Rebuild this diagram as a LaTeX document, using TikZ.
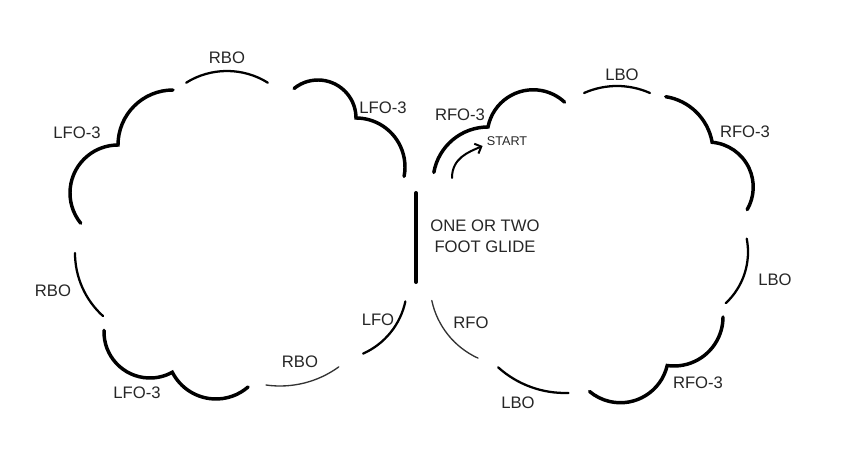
\documentclass[tikz,border=0pt]{standalone}
\usepackage{fontspec}
\setmainfont{Liberation Sans}
\usetikzlibrary{positioning,arrows.meta}

\begin{document}
\begin{tikzpicture}[x=0.75pt, y=-0.75pt, line cap=round, >={Straight Barb[length=4pt,width=8pt]},
    heavy edge/.style={line width=2.6pt}, mid edge/.style={line width=1.7pt}, light edge/.style={line width=1pt, black!80},
    edge label/.style={font=\fontsize{12.5}{15.75}\selectfont, text=black!85, inner sep=0pt, align=center}]
    \useasboundingbox (0,0) rectangle (842,456);

    % left circle
    \draw[heavy edge] (118,193) ++(141:48) arc[start angle=141, end angle=270, radius=48] arc[start angle=180, end angle=270, radius=55];
    \draw[mid edge] (227,148) ++(238:77) arc[start angle=238, end angle=302, radius=77];
    \draw[heavy edge] (318,118) ++(231:38) arc[start angle=231, end angle=360, radius=38] arc[start angle=270, end angle=371, radius=49];
    \draw[mid edge] (160,253) ++(180:85) arc[start angle=180, end angle=132, radius=85];
    \draw[heavy edge] (150,332) ++(182:46) arc[start angle=182, end angle=61, radius=46] arc[start angle=153, end angle=49, radius=49];
    \draw[light edge] (280,286) ++(98:100) arc[start angle=98, end angle=54, radius=100];
    \draw[mid edge] (333,286) ++(66:74) arc[start angle=66, end angle=12, radius=74];

    \node[edge label] (lfo3a) at (77,133) {LFO-3};
    \node[edge label] (rboa) at (227,58) {RBO};
    \node[edge label] (lfo3b) at (383,108) {LFO-3};
    \node[edge label] (rbob) at (53,291) {RBO};
    \node[edge label] (lfo3c) at (137,393) {LFO-3};
    \node[edge label] (rboc) at (300,362) {RBO};
    \node[edge label] (lfo) at (378,320) {LFO};

    % glide
    \draw[line width=3pt] (416,193) -- (416,282);
    \node[edge label] (glide) at (485,236.5) {ONE OR TWO\\FOOT GLIDE};

    % right circle
    \draw[heavy edge] (488,182) ++(190:55) arc[start angle=190, end angle=270, radius=55] arc[start angle=191, end angle=313, radius=46];
    \draw[mid edge] (617,167) ++(246:81) arc[start angle=246, end angle=294, radius=81];
    \draw[heavy edge] (657,152) ++(279:56) arc[start angle=279, end angle=350, radius=56] arc[start angle=275, end angle=390, radius=45];
    \draw[mid edge] (678,252) ++(-11:70) arc[start angle=-11, end angle=47, radius=70];
    \draw[heavy edge] (674,317) ++(0:49) arc[start angle=0, end angle=98, radius=49] arc[start angle=13, end angle=130, radius=48];
    \draw[mid edge] (565,293) ++(132:100) arc[start angle=132, end angle=88, radius=100];
    \draw[light edge] (512,283.5) ++(168:82) arc[start angle=168, end angle=114.5, radius=82];

    \node[edge label] (rfo3a) at (460,115) {RFO-3};
    \node[edge label] (lboa) at (622,75) {LBO};
    \node[edge label] (rfo3b) at (745,132) {RFO-3};
    \node[edge label] (lbob) at (775,280) {LBO};
    \node[edge label] (rfo3c) at (698,383) {RFO-3};
    \node[edge label] (lboc) at (518,403) {LBO};
    \node[edge label] (rfo) at (471,323) {RFO};

    \node[edge label, font=\fontsize{9.5}{11}\selectfont] (start) at (507,141) {START};
    \coordinate (go) at (452,178);
    \draw[line width=1.5pt, ->] (go) .. controls +(0,-20) and +(-14,6) .. ([shift={(-4,5)}]start.west);
\end{tikzpicture}
\end{document}
